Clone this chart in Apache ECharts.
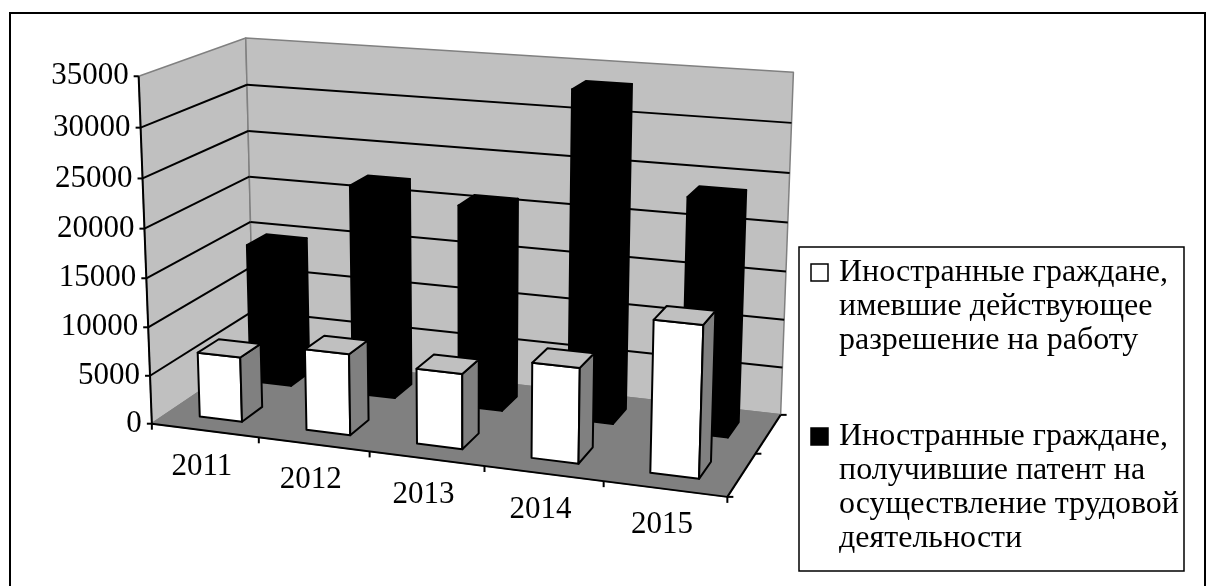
<!DOCTYPE html>
<html lang="ru">
<head>
<meta charset="UTF-8">
<title>Иностранные граждане</title>
<script src="https://cdn.jsdelivr.net/npm/echarts@6/dist/echarts.min.js"></script>
<style>html,body{margin:0;padding:0;background:#fff;}</style>
</head>
<body>
<div id="main" style="width:1216px;height:586px;"></div>
<script type="text/javascript">
// данные
var years = ['2011', '2012', '2013', '2014', '2015'];
var permitValues = [6700, 8300, 7600, 9500, 14900];
var patentValues = [14800, 22100, 21000, 33500, 23800];
var yTicks = [0, 5000, 10000, 15000, 20000, 25000, 30000, 35000];
var permitLines = ['Иностранные граждане,', 'имевшие действующее', 'разрешение на работу'];
var patentLines = ['Иностранные граждане,', 'получившие патент на', 'осуществление трудовой', 'деятельности'];

var FONT = '"Liberation Serif", "Times New Roman", serif';
var FS = 31;

// точки для подгонки перспективы: [X, Y, Z] (0..1 в куб. графике) -> [x, y] на экране
var camPoints = [
    [0, 1, 0, 140, 75], [0, 6 / 7, 0, 141, 127], [0, 3 / 7, 0, 144.5, 278], [0, 0, 0, 153, 423],
    [0, 1, 1, 245, 38], [0, 6 / 7, 1, 247, 86], [0, 3 / 7, 1, 250, 222],
    [1, 1, 1, 794, 72], [1, 6 / 7, 1, 791, 124], [1, 0, 1, 782, 413],
    [1, 0, 0, 727, 497], [0.2, 0, 0, 260, 438], [0.4, 0, 0, 369, 452],
    [0.6, 0, 0, 484, 467], [0.8, 0, 0, 603, 482], [1, 0, 0.5, 755, 453]
];

// DLT: 3x4 матрица проекции методом наименьших квадратов
function fitProjection(pts) {
    var N = 11, M = [], r = [], i, j, k;
    for (i = 0; i < N; i++) { M.push([0, 0, 0, 0, 0, 0, 0, 0, 0, 0, 0]); r.push(0); }
    function add(row, rhs) {
        for (var a = 0; a < N; a++) {
            r[a] += row[a] * rhs;
            for (var b = 0; b < N; b++) M[a][b] += row[a] * row[b];
        }
    }
    pts.forEach(function (p) {
        var X = p[0], Y = p[1], Z = p[2], x = p[3], y = p[4];
        add([X, Y, Z, 1, 0, 0, 0, 0, -x * X, -x * Y, -x * Z], x);
        add([0, 0, 0, 0, X, Y, Z, 1, -y * X, -y * Y, -y * Z], y);
    });
    for (i = 0; i < N; i++) {
        var piv = i;
        for (k = i + 1; k < N; k++) if (Math.abs(M[k][i]) > Math.abs(M[piv][i])) piv = k;
        var t = M[i]; M[i] = M[piv]; M[piv] = t;
        t = r[i]; r[i] = r[piv]; r[piv] = t;
        for (k = i + 1; k < N; k++) {
            var f = M[k][i] / M[i][i];
            for (j = i; j < N; j++) M[k][j] -= f * M[i][j];
            r[k] -= f * r[i];
        }
    }
    var a = new Array(N);
    for (i = N - 1; i >= 0; i--) {
        var s = r[i];
        for (j = i + 1; j < N; j++) s -= M[i][j] * a[j];
        a[i] = s / M[i][i];
    }
    return a;
}
var cam = fitProjection(camPoints);
function P(X, Y, Z) {
    var w = cam[8] * X + cam[9] * Y + cam[10] * Z + 1;
    return [(cam[0] * X + cam[1] * Y + cam[2] * Z + cam[3]) / w,
            (cam[4] * X + cam[5] * Y + cam[6] * Z + cam[7]) / w];
}

function poly(pts, fill, stroke, lw) {
    return { type: 'polygon', shape: { points: pts }, style: { fill: fill, stroke: stroke, lineWidth: lw || 1.5, lineJoin: 'round' } };
}
function seg(a, b, color, lw) {
    return { type: 'line', shape: { x1: a[0], y1: a[1], x2: b[0], y2: b[1] }, style: { stroke: color, lineWidth: lw || 1.5 } };
}

// стены, пол, сетка, оси
function renderFrame(params, api) {
    var cs = params.coordSys;
    var band = api.size([1, 0])[0] / cs.width;
    function vy(v) { return (cs.y + cs.height - api.coord([0, v])[1]) / cs.height; }
    function cx(i) { return (api.coord([i, 0])[0] - cs.x) / cs.width; }
    var top = vy(yTicks[yTicks.length - 1]);
    var kids = [];
    kids.push(poly([P(0, 0, 0), P(0, top, 0), P(0, top, 1), P(0, 0, 1)], '#c0c0c0', '#808080'));
    kids.push(poly([P(0, 0, 1), P(0, top, 1), P(1, top, 1), P(1, 0, 1)], '#c0c0c0', '#808080'));
    kids.push(poly([P(0, 0, 0), P(1, 0, 0), P(1, 0, 1), P(0, 0, 1)], '#808080', '#808080'));
    yTicks.forEach(function (v) {
        var y = vy(v);
        if (v > 0 && y < top - 1e-6) {
            kids.push(seg(P(0, y, 0), P(0, y, 1), '#000', 2));
            kids.push(seg(P(0, y, 1), P(1, y, 1), '#000', 2));
        }
        var p = P(0, y, 0);
        kids.push(seg([p[0] - 5, p[1]], p, '#000', 2));
        kids.push({ type: 'text', style: { text: String(v), x: p[0] - 10, y: p[1], align: 'right', verticalAlign: 'middle',
            fontSize: FS, fontFamily: FONT, fill: '#000' } });
    });
    kids.push(seg(P(0, 0, 0), P(0, top, 0), '#000', 2));
    kids.push(seg(P(0, 0, 0), P(1, 0, 0), '#000', 2));
    kids.push(seg(P(1, 0, 0), P(1, 0, 1), '#000', 2));
    for (var k = 0; k <= years.length; k++) {
        var q = P(cx(0) - band / 2 + k * band, 0, 0);
        kids.push(seg(q, [q[0], q[1] + 6], '#000', 2));
    }
    [0, 0.5, 1].forEach(function (z) {
        var q = P(1, 0, z);
        kids.push(seg(q, [q[0] + 6, q[1]], '#000', 2));
    });
    years.forEach(function (name, i) {
        var q = P(cx(i), 0, 0);
        kids.push({ type: 'text', style: { text: name, x: q[0] - 3, y: q[1] + 36, align: 'center', verticalAlign: 'middle',
            fontSize: FS, fontFamily: FONT, fill: '#000' } });
    });
    return { type: 'group', children: kids };
}

// столбики-параллелепипеды
function barRenderer(z0, z1, colors) {
    return function (params, api) {
        var cs = params.coordSys;
        var c = api.coord([api.value(0), api.value(1)]);
        var b = api.coord([api.value(0), 0]);
        var hw = api.size([1, 0])[0] * 0.2 / cs.width;
        var xc = (c[0] - cs.x) / cs.width;
        var y1 = (cs.y + cs.height - c[1]) / cs.height;
        var y0 = (cs.y + cs.height - b[1]) / cs.height;
        var x0 = xc - hw, x1 = xc + hw;
        return {
            type: 'group',
            children: [
                poly([P(x0, y0, z0), P(x1, y0, z0), P(x1, y1, z0), P(x0, y1, z0)], colors[0], '#000', 2),
                poly([P(x1, y0, z0), P(x1, y0, z1), P(x1, y1, z1), P(x1, y1, z0)], colors[1], '#000', 2),
                poly([P(x0, y1, z0), P(x1, y1, z0), P(x1, y1, z1), P(x0, y1, z1)], colors[2], '#000', 2)
            ]
        };
    };
}

function legendItem(y, fill, lines) {
    var els = [{ type: 'rect', shape: { x: 811, y: y - 9, width: 17, height: 17 }, style: { fill: fill, stroke: '#000', lineWidth: 1.5 } }];
    lines.forEach(function (t, i) {
        els.push({ type: 'text', style: { text: t, x: 839, y: y + i * 34, verticalAlign: 'middle',
            fontSize: 32, fontFamily: FONT, fill: '#000' } });
    });
    return els;
}

var myChart = echarts.init(document.getElementById('main'));
var option = {
    animation: false,
    grid: { left: 100, top: 100, width: 500, height: 350, show: false },
    xAxis: { type: 'category', data: years, show: false },
    yAxis: { type: 'value', min: 0, max: 35000, interval: 5000, show: false },
    graphic: [
        { type: 'rect', shape: { x: 10, y: 13, width: 1195, height: 600 }, style: { fill: 'none', stroke: '#000', lineWidth: 2 } },
        { type: 'rect', shape: { x: 799, y: 247, width: 385, height: 324 }, style: { fill: '#fff', stroke: '#000', lineWidth: 1.5 } }
    ].concat(legendItem(273, '#fff', permitLines), legendItem(437, '#000', patentLines)),
    series: [
        { type: 'custom', name: 'frame', z: 1, silent: true, data: [[0, 0]], renderItem: renderFrame },
        { type: 'custom', name: patentLines.join(' '), z: 2, data: patentValues.map(function (v, i) { return [i, v]; }),
          renderItem: barRenderer(0.65, 0.85, ['#000', '#000', '#000']) },
        { type: 'custom', name: permitLines.join(' '), z: 3, data: permitValues.map(function (v, i) { return [i, v]; }),
          renderItem: barRenderer(0.15, 0.35, ['#fff', '#808080', '#c0c0c0']) }
    ]
};
myChart.setOption(option);
</script>
</body>
</html>
